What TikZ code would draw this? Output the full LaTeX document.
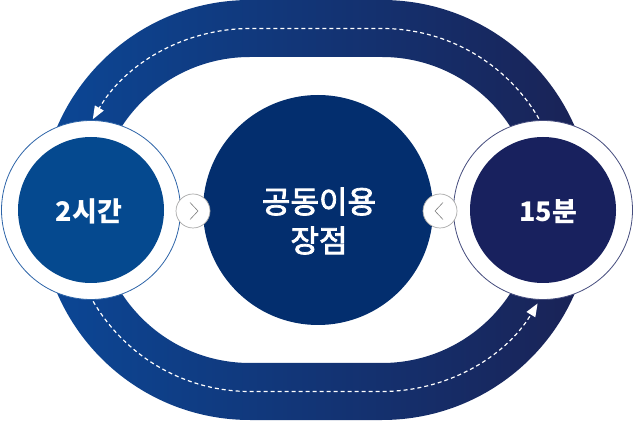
\documentclass[tikz,border=0pt]{standalone}
\usepackage{fontspec}
\newfontfamily\krfont{Noto Sans CJK KR}
\newfontfamily\krmid{Noto Sans CJK KR}[FakeBold=2.5]
\usetikzlibrary{positioning, arrows.meta}
\definecolor{bandleft}{HTML}{0B4796}
\definecolor{bandright}{HTML}{1A2255}
\definecolor{twohour}{HTML}{05498F}
\definecolor{twoedge}{HTML}{2D64A8}
\definecolor{shared}{HTML}{032E6E}
\definecolor{fifteen}{HTML}{18215E}
\definecolor{chevgray}{HTML}{A8A8A8}
\tikzset{
  ring/.style={circle, fill=white, draw=#1, line width=0.8pt, minimum size=179pt, inner sep=0pt},
  core/.style={circle, fill=#1, minimum size=146pt, inner sep=0pt},
  label/.style={text=white, font=\krfont\bfseries\fontsize{27}{30}\selectfont},
  chev/.style={circle, fill=white, draw=chevgray, line width=0.7pt, minimum size=34pt, inner sep=0pt},
  chevline/.style={draw=gray, line width=0.6pt},
  flowline/.style={white, line width=1.2pt, dash pattern=on 4pt off 3pt, -{Triangle[length=13pt,width=10pt]}},
}
\begin{document}
\begin{tikzpicture}[x=1pt, y=1pt]
    \useasboundingbox (0,0) rectangle (634,420);

    % 바깥 띠
    \shade[left color=bandleft, right color=bandright, even odd rule]
        (250,420) -- (382,420) arc (90:-90:210) -- (250,0) arc (270:90:210) -- cycle
        (250,363) -- (382,363) arc (90:-90:153) -- (250,57) arc (270:90:153) -- cycle;

    % 점선 화살표
    \draw[flowline] ([shift={(28:181.5)}]382,210) arc (28:90:181.5) -- (250,391.5) arc (90:150:181.5);
    \draw[flowline] ([shift={(208:181.5)}]250,210) arc (208:270:181.5) -- (382,28.5) arc (270:329:181.5);

    % 원
    \node[ring=twoedge] (lring) at (91,210) {};
    \node[core=twohour] (lcore) at (91,210) {};
    \node[ring=fifteen!80] (rring) at (543,210) {};
    \node[core=fifteen] (rcore) at (543,210) {};
    \node[circle, fill=shared, minimum size=230pt, inner sep=0pt] (mid) at (318,210) {};

    \node[label] (ltext) at (89,209) {2시간};
    \node[label] (rtext) at (548,208) {15분};
    \node[text=white, align=center, font=\krmid\fontsize{31}{39}\selectfont] (mtext) at (319,199) {공동이용\\장점};

    % 꺾쇠
    \node[chev] (lchev) at (193,209) {};
    \node[chev] (rchev) at (440,209) {};
    \draw[chevline] ([shift={(-3,8.5)}]lchev.center) -- ([shift={(5,0)}]lchev.center) -- ([shift={(-3,-8.5)}]lchev.center);
    \draw[chevline] ([shift={(3,8.5)}]rchev.center) -- ([shift={(-5,0)}]rchev.center) -- ([shift={(3,-8.5)}]rchev.center);
\end{tikzpicture}
\end{document}
